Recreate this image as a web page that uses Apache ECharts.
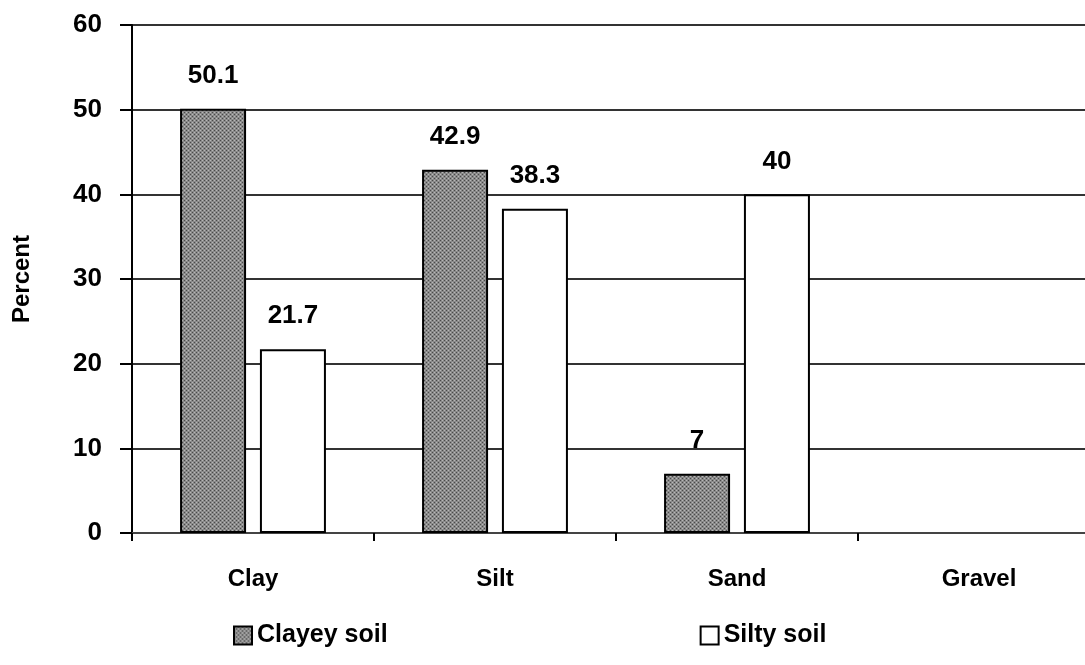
<!DOCTYPE html>
<html><head><meta charset="utf-8">
<script src="https://cdn.jsdelivr.net/npm/echarts@6/dist/echarts.min.js"></script>
<style>html,body{margin:0;padding:0;background:#fff}#c{width:1085px;height:665px}</style>
</head><body><div id="c"></div>
<script>
var categories = ['Clay', 'Silt', 'Sand', 'Gravel'];
var clayeySoil = [50.1, 42.9, 7, null];
var siltySoil = [21.7, 38.3, 40, null];
var seriesNames = ['Clayey soil', 'Silty soil'];

function makePattern() {
  var cv = document.createElement('canvas');
  cv.width = 4; cv.height = 4;
  var ctx = cv.getContext('2d');
  ctx.fillStyle = '#8a8a8a'; ctx.fillRect(0, 0, 4, 4);
  ctx.fillStyle = '#4a4a4a';
  ctx.fillRect(0, 0, 1, 1); ctx.fillRect(2, 2, 1, 1);
  ctx.fillStyle = '#b8b8b8';
  ctx.fillRect(2, 0, 1, 1); ctx.fillRect(0, 2, 1, 1);
  return cv;
}
var pat = { image: makePattern(), repeat: 'repeat' };
var font = 'Liberation Sans, Arial, sans-serif';

var chart = echarts.init(document.getElementById('c'), null, { renderer: 'canvas' });
chart.setOption({
  animation: false,
  backgroundColor: '#fff',
  grid: { left: 132, top: 25, height: 508, width: 968, containLabel: false, outerBoundsMode: 'none' },
  legend: {
    data: seriesNames,
    bottom: 12, left: 228,
    itemWidth: 18, itemHeight: 18, itemGap: 312,
    icon: 'rect',
    textStyle: { fontFamily: font, fontWeight: 'bold', fontSize: 25, color: '#000' }
  },
  xAxis: {
    type: 'category', data: categories,
    axisLine: { lineStyle: { color: '#444', width: 2 } },
    axisTick: { show: true, length: 8, lineStyle: { color: '#000', width: 2 } },
    axisLabel: { margin: 34, fontFamily: font, fontWeight: 'bold', fontSize: 24, color: '#000' }
  },
  yAxis: {
    type: 'value', min: 0, max: 60, interval: 10,
    name: 'Percent', nameLocation: 'middle', nameGap: 98, nameRotate: 90,
    nameTextStyle: { fontFamily: font, fontWeight: 'bold', fontSize: 24, color: '#000' },
    axisLine: { show: true, lineStyle: { color: '#000', width: 2 } },
    axisTick: { show: true, inside: false, length: 12, lineStyle: { color: '#000', width: 2 } },
    axisLabel: { margin: 30, fontFamily: font, fontWeight: 'bold', fontSize: 26, color: '#000' },
    splitLine: { show: true, lineStyle: { color: '#333', width: 2 } }
  },
  series: [
    {
      name: seriesNames[0], type: 'bar', data: clayeySoil,
      barWidth: 66, barGap: '21%',
      itemStyle: { color: pat, borderColor: '#000', borderWidth: 2 },
      label: { show: true, position: 'top', distance: 20, fontFamily: font, fontWeight: 'bold', fontSize: 26, color: '#000' }
    },
    {
      name: seriesNames[1], type: 'bar', data: siltySoil,
      barWidth: 66,
      itemStyle: { color: '#fff', borderColor: '#000', borderWidth: 2 },
      label: { show: true, position: 'top', distance: 20, fontFamily: font, fontWeight: 'bold', fontSize: 26, color: '#000' }
    }
  ]
});
</script></body></html>
